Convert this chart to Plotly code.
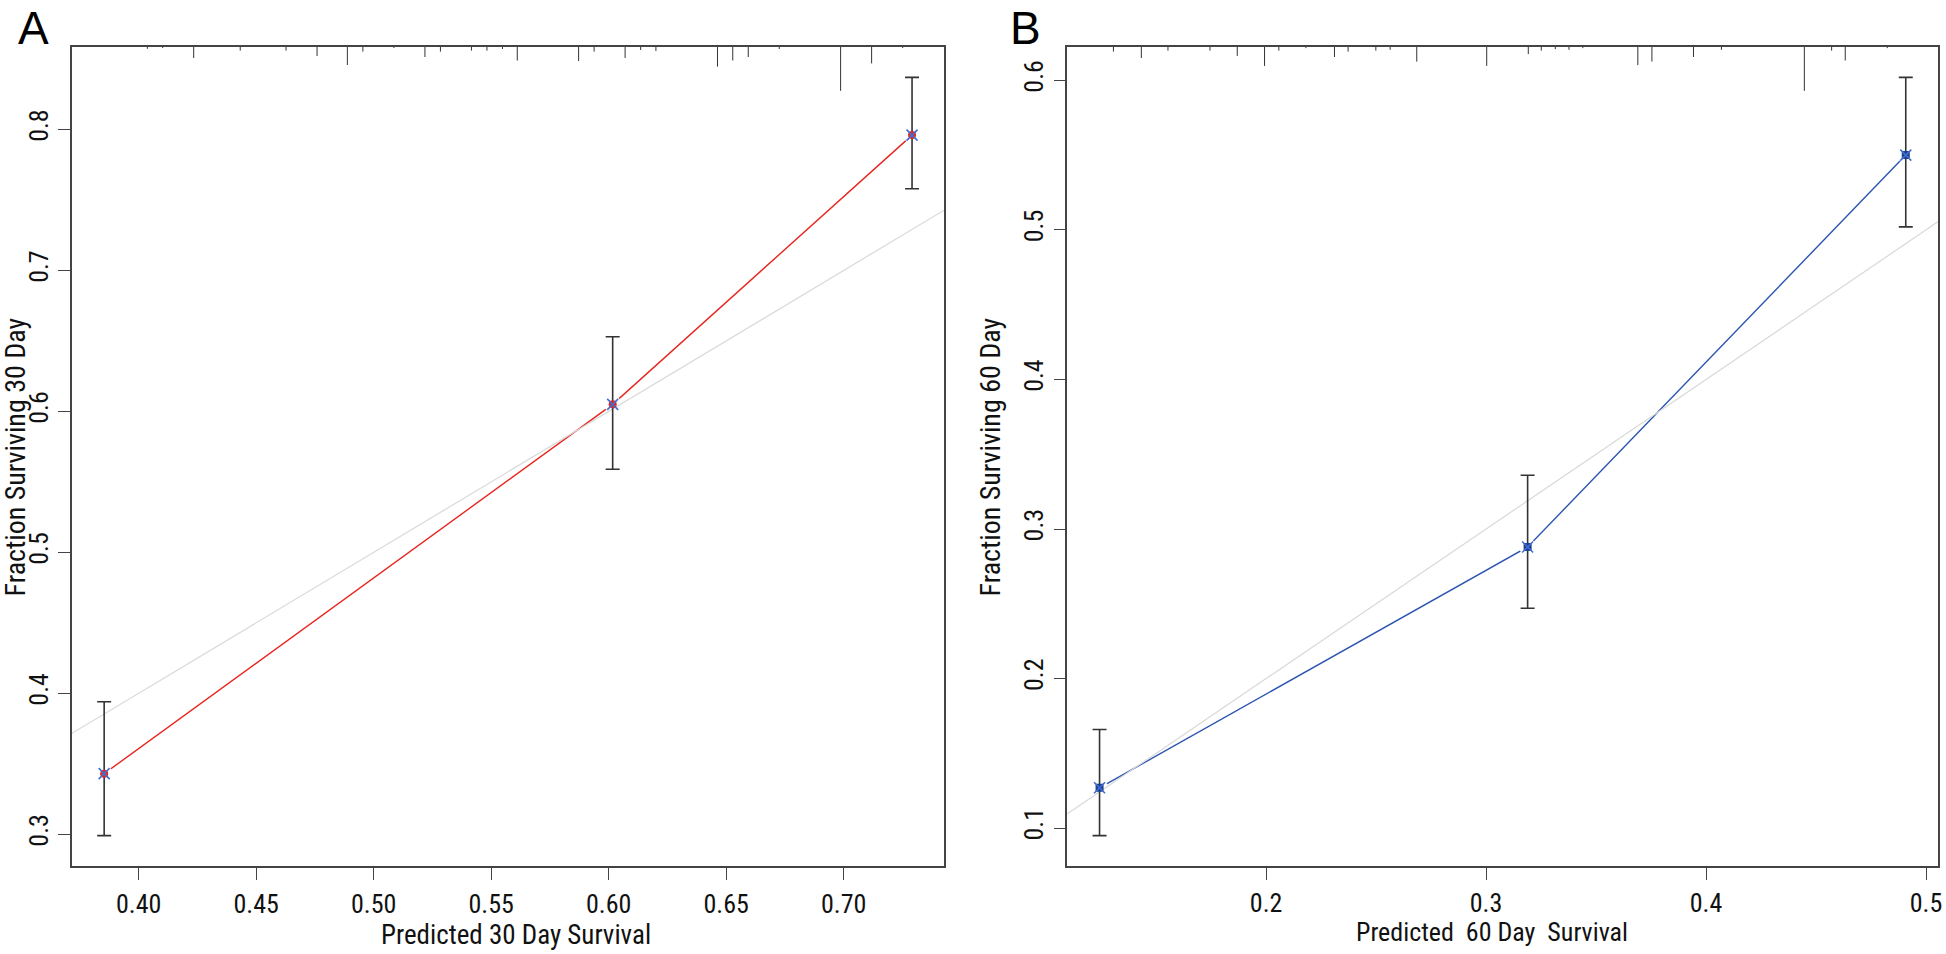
import plotly.graph_objects as go

# ---------------- data ----------------
# Panel A : 30 day
a_pred = [0.3853, 0.6017, 0.7291]
a_obs = [0.343, 0.605, 0.796]
a_lower = [0.299, 0.559, 0.758]
a_upper = [0.394, 0.653, 0.837]
a_spike_x = [0.4037, 0.4102, 0.4234, 0.4432, 0.4627, 0.4759, 0.4888, 0.4954, 0.5086,
             0.5218, 0.5284, 0.5416, 0.5482, 0.5548, 0.5611, 0.5872, 0.5938, 0.6070,
             0.6136, 0.6201, 0.6463, 0.6528, 0.6594, 0.6726, 0.6987, 0.7119, 0.7251]
a_spike_h = [1.8, 1.0, 11.0, 3.6, 3.6, 9.0, 18.0, 4.6, 1.0,
             10.0, 4.6, 3.6, 3.6, 2.0, 13.5, 14.0, 4.6, 11.0,
             3.0, 4.0, 19.6, 13.5, 10.0, 2.0, 43.8, 16.4, 1.0]
a_xticks = [0.40, 0.45, 0.50, 0.55, 0.60, 0.65, 0.70]
a_xticklabels = ["0.40", "0.45", "0.50", "0.55", "0.60", "0.65", "0.70"]
a_yticks = [0.3, 0.4, 0.5, 0.6, 0.7, 0.8]
a_yticklabels = ["0.3", "0.4", "0.5", "0.6", "0.7", "0.8"]

# Panel B : 60 day
b_pred = [0.1243, 0.3189, 0.4908]
b_obs = [0.127, 0.288, 0.550]
b_lower = [0.095, 0.247, 0.502]
b_upper = [0.166, 0.336, 0.602]
b_spike_x = [0.1306, 0.1433, 0.1554, 0.1745, 0.1869, 0.1993, 0.2058, 0.2181, 0.2311,
             0.2373, 0.2499, 0.2564, 0.2685, 0.3003, 0.3192, 0.3251, 0.3315, 0.3377,
             0.3440, 0.3690, 0.3754, 0.3943, 0.4070, 0.4447, 0.4571, 0.4633, 0.4824]
b_spike_h = [4.6, 11.0, 3.6, 3.6, 8.9, 18.9, 3.6, 1.1, 10.0,
             4.6, 3.6, 2.8, 14.6, 18.9, 7.1, 3.6, 2.1, 2.8,
             1.1, 18.1, 14.6, 10.0, 2.8, 43.8, 3.6, 13.5, 1.1]
b_xticks = [0.2, 0.3, 0.4, 0.5]
b_xticklabels = ["0.2", "0.3", "0.4", "0.5"]
b_yticks = [0.1, 0.2, 0.3, 0.4, 0.5, 0.6]
b_yticklabels = ["0.1", "0.2", "0.3", "0.4", "0.5", "0.6"]

a_xtitle = "Predicted 30 Day Survival"
a_ytitle = "Fraction Surviving 30 Day"
b_xtitle = "Predicted\u00a0 60 Day\u00a0 Survival"
b_ytitle = "Fraction Surviving 60 Day"

# ---------------- styling ----------------
W, H = 1946, 954
FONT = "Liberation Sans Narrow, Arial Narrow, Roboto Condensed, Liberation Sans, sans-serif"
AXC = "#444444"
GRAY = "#d9d9d9"
RED = "#e8261f"
BLUE_LINE = "#2b55b0"
BLUE_X = "#3f6fd0"
NAVY = "#1d3f8e"
SPIKE_SCALE = 819.0


def r_range(lo, hi):
    s = hi - lo
    return [lo - 0.04 * s, hi + 0.04 * s]


def fx(v):  # screen x pixel -> paper fraction
    return min(1.0, max(0.0, v / W))


def fy(v):  # screen y pixel -> paper fraction
    return min(1.0, max(0.0, 1 - v / H))


a_xr = r_range(min(a_pred), max(a_pred))
a_yr = r_range(min(a_lower), max(a_upper))
b_xr = r_range(min(b_pred), max(b_pred))
b_yr = r_range(min(b_lower), max(b_upper))

ydom = [fy(866), fy(47)]
a_xdom = [fx(72), fx(946.3)]
b_xdom = [fx(1069.5), fx(1942)]

fig = go.Figure()


def add_panel(xa, ya, ya_spk, pred, obs, lower, upper, sx, sh, xr, yr,
              line_col, dot_col, dot_symbol, x_col):
    # spike histogram at top
    xs, ys = [], []
    for x, h in zip(sx, sh):
        xs += [x, x, None]
        ys += [0, h, None]
    fig.add_trace(go.Scatter(x=xs, y=ys, xaxis=xa, yaxis=ya_spk, mode="lines",
                             line=dict(color="#333333", width=1), hoverinfo="skip",
                             showlegend=False))
    # calibration line
    fig.add_trace(go.Scatter(x=pred, y=obs, xaxis=xa, yaxis=ya, mode="lines",
                             line=dict(color=line_col, width=1.4), showlegend=False))
    # white gaps round the points (type = "b")
    fig.add_trace(go.Scatter(x=pred, y=obs, xaxis=xa, yaxis=ya, mode="markers",
                             marker=dict(color="white", size=17, line=dict(width=0)),
                             hoverinfo="skip", showlegend=False))
    # ideal line
    lo = min(xr[0], yr[0]) - 0.1
    hi = max(xr[1], yr[1]) + 0.1
    fig.add_trace(go.Scatter(x=[lo, hi], y=[lo, hi], xaxis=xa, yaxis=ya, mode="lines",
                             line=dict(color=GRAY, width=1.2), hoverinfo="skip",
                             showlegend=False))
    # error bars
    fig.add_trace(go.Scatter(
        x=pred, y=obs, xaxis=xa, yaxis=ya, mode="markers",
        marker=dict(size=1, color="rgba(0,0,0,0)"),
        error_y=dict(type="data", symmetric=False,
                     array=[u - o for u, o in zip(upper, obs)],
                     arrayminus=[o - l for o, l in zip(obs, lower)],
                     color="#333333", thickness=1.6, width=7),
        showlegend=False))
    # points
    fig.add_trace(go.Scatter(x=pred, y=obs, xaxis=xa, yaxis=ya, mode="markers",
                             marker=dict(color=dot_col, size=8, symbol=dot_symbol,
                                         line=dict(width=0)),
                             showlegend=False))
    fig.add_trace(go.Scatter(x=pred, y=obs, xaxis=xa, yaxis=ya, mode="markers",
                             marker=dict(color=x_col, size=11, symbol="x-thin",
                                         line=dict(width=1.6, color=x_col)),
                             showlegend=False))


add_panel("x", "y", "y3", a_pred, a_obs, a_lower, a_upper, a_spike_x, a_spike_h,
          a_xr, a_yr, RED, RED, "circle", BLUE_X)
add_panel("x2", "y2", "y4", b_pred, b_obs, b_lower, b_upper, b_spike_x, b_spike_h,
          b_xr, b_yr, BLUE_LINE, NAVY, "square", BLUE_X)

axis_common = dict(showgrid=False, zeroline=False, showline=True, mirror=True,
                   linecolor=AXC, linewidth=1.6, ticks="outside", ticklen=12,
                   tickwidth=1.4, tickcolor=AXC, ticklabeloverflow="allow",
                   tickfont=dict(family=FONT, size=26, color="#111111"))

fig.update_layout(
    width=W, height=H,
    margin=dict(l=0, r=0, t=0, b=0),
    paper_bgcolor="white", plot_bgcolor="white",
    xaxis=dict(domain=a_xdom, range=a_xr, anchor="y", tickvals=a_xticks,
               ticktext=a_xticklabels, ticklabelstandoff=2, **axis_common),
    yaxis=dict(domain=ydom, range=a_yr, anchor="x", tickvals=a_yticks,
               ticktext=a_yticklabels, tickangle=-90, ticklabelstandoff=0, **axis_common),
    xaxis2=dict(domain=b_xdom, range=b_xr, anchor="y2", tickvals=b_xticks,
                ticktext=b_xticklabels, ticklabelstandoff=1, **axis_common),
    yaxis2=dict(domain=ydom, range=b_yr, anchor="x2", tickvals=b_yticks,
                ticktext=b_yticklabels, tickangle=-90, ticklabelstandoff=0, **axis_common),
    yaxis3=dict(overlaying="y", anchor="x", range=[SPIKE_SCALE, 0], visible=False,
                showgrid=False, zeroline=False),
    yaxis4=dict(overlaying="y2", anchor="x2", range=[SPIKE_SCALE, 0], visible=False,
                showgrid=False, zeroline=False),
)

title_font = dict(family=FONT, size=27, color="#111111")
ycen = (ydom[0] + ydom[1]) / 2
letter_font = dict(family="Liberation Sans, Arial, sans-serif", size=46, color="black")
annotations = [
    dict(text=a_xtitle, x=fx(517), y=fy(935), xref="paper", yref="paper",
         showarrow=False, font=title_font, xanchor="center", yanchor="middle"),
    dict(text=a_ytitle, x=fx(16), y=ycen, xref="paper", yref="paper",
         showarrow=False, font=dict(family=FONT, size=28, color="#111111"),
         textangle=-90, xanchor="center", yanchor="middle"),
    dict(text=b_xtitle, x=fx(1495), y=fy(932), xref="paper", yref="paper",
         showarrow=False, font=dict(family=FONT, size=26, color="#111111"),
         xanchor="center", yanchor="middle"),
    dict(text=b_ytitle, x=fx(993), y=ycen, xref="paper", yref="paper",
         showarrow=False, font=dict(family=FONT, size=28, color="#111111"),
         textangle=-90, xanchor="center", yanchor="middle"),
    dict(text="A", x=fx(34), y=fy(-2), xref="paper", yref="paper", showarrow=False,
         font=letter_font, xanchor="center", yanchor="top"),
    dict(text="B", x=fx(1028), y=fy(-2), xref="paper", yref="paper", showarrow=False,
         font=letter_font, xanchor="center", yanchor="top"),
]
fig.update_layout(annotations=annotations)

# the page's default 8px body margin would shift and crop the fixed-size figure
fig.write_html("out.html",
               config={"displayModeBar": False},
               post_script="document.body.style.margin='0';"
                           "document.documentElement.style.overflow='hidden';")
